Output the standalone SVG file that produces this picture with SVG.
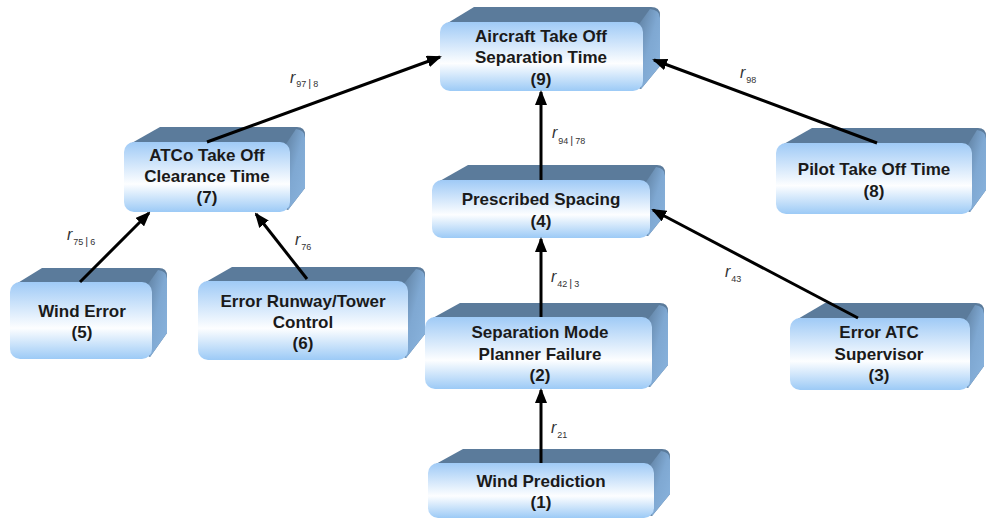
<svg xmlns="http://www.w3.org/2000/svg" width="986" height="521" viewBox="0 0 986 521">
<defs>
<linearGradient id="front" x1="0" y1="0" x2="0" y2="1">
<stop offset="0" stop-color="#9fcaf6"/>
<stop offset="0.6" stop-color="#fdfeff"/>
<stop offset="1" stop-color="#9ccaf6"/>
</linearGradient>
<linearGradient id="side" x1="0" y1="0" x2="1" y2="1">
<stop offset="0" stop-color="#5b7b9b"/>
<stop offset="0.5" stop-color="#7fa8d2"/>
<stop offset="1" stop-color="#8ab4de"/>
</linearGradient>
<marker id="ah" markerUnits="userSpaceOnUse" markerWidth="15" markerHeight="12" refX="13" refY="6" orient="auto">
<path d="M0,0 L15,6 L0,12 Z" fill="#000"/>
</marker>
</defs>
<style>
.top{fill:#5b7b9b}
.side{fill:url(#side)}
.face{fill:url(#front)}
.t{font-family:"Liberation Sans",Arial,sans-serif;font-weight:bold;font-size:17px;fill:#1a1a1a;text-anchor:middle}
.r{font-family:"Liberation Sans",Arial,sans-serif;font-style:italic;font-size:16px;fill:#333}
.s{font-size:9px;font-style:normal}
.b{font-size:11px;font-style:normal}
.c{stroke:#000;stroke-width:3;fill:none;marker-end:url(#ah)}
</style>

<g id="n9">
<path class="top" d="M446,24 L474,7 L651,7 Q660,7 660,15 L660,66 L641,89 Z"/>
<path class="side" d="M637,27 L650,9 Q660,10 660,18 L660,66 L641,89 Z"/>
<rect class="face" x="440" y="22" width="203" height="69" rx="10"/>
<text class="t" x="541" y="42">Aircraft Take Off</text>
<text class="t" x="541" y="63">Separation Time</text>
<text class="t" x="541" y="85">(9)</text>
</g>

<g id="n7">
<path class="top" d="M130,144 L160,127 L297,127 Q305,127 305,135 L305,188 L288,210 Z"/>
<path class="side" d="M284,147 L296,129 Q305,130 305,138 L305,188 L288,210 Z"/>
<rect class="face" x="124" y="142" width="166" height="70" rx="10"/>
<text class="t" x="207" y="161">ATCo Take Off</text>
<text class="t" x="207" y="182">Clearance Time</text>
<text class="t" x="207" y="203">(7)</text>
</g>

<g id="n4">
<path class="top" d="M438,182 L468,165 L657,165 Q665,165 665,173 L665,215 L648,236 Z"/>
<path class="side" d="M644,185 L656,167 Q665,168 665,176 L665,215 L648,236 Z"/>
<rect class="face" x="432" y="180" width="218" height="58" rx="10"/>
<text class="t" x="541" y="205">Prescribed Spacing</text>
<text class="t" x="541" y="227">(4)</text>
</g>

<g id="n8">
<path class="top" d="M782,145 L812,128 L978,128 Q986,128 986,136 L986,190 L970,212 Z"/>
<path class="side" d="M966,148 L977,130 Q986,131 986,139 L986,190 L970,212 Z"/>
<rect class="face" x="776" y="143" width="196" height="71" rx="10"/>
<text class="t" x="874" y="175">Pilot Take Off Time</text>
<text class="t" x="874" y="197">(8)</text>
</g>

<g id="n5">
<path class="top" d="M16,284 L42,268 L159,268 Q167,268 167,276 L167,333 L150,357 Z"/>
<path class="side" d="M146,287 L158,270 Q167,271 167,279 L167,333 L150,357 Z"/>
<rect class="face" x="10" y="282" width="142" height="77" rx="10"/>
<text class="t" x="82" y="317">Wind Error</text>
<text class="t" x="82" y="338">(5)</text>
</g>

<g id="n6">
<path class="top" d="M204,283 L232,267 L417,267 Q425,267 425,275 L425,334 L406,358 Z"/>
<path class="side" d="M402,286 L416,269 Q425,270 425,278 L425,334 L406,358 Z"/>
<rect class="face" x="198" y="281" width="210" height="79" rx="10"/>
<text class="t" x="303" y="307">Error Runway/Tower</text>
<text class="t" x="303" y="328">Control</text>
<text class="t" x="303" y="349">(6)</text>
</g>

<g id="n2">
<path class="top" d="M431,319 L460,303 L660,303 Q668,303 668,311 L668,365 L650,387 Z"/>
<path class="side" d="M646,322 L659,305 Q668,306 668,314 L668,365 L650,387 Z"/>
<rect class="face" x="425" y="317" width="227" height="72" rx="10"/>
<text class="t" x="540" y="338">Separation Mode</text>
<text class="t" x="540" y="360">Planner Failure</text>
<text class="t" x="540" y="381">(2)</text>
</g>

<g id="n3">
<path class="top" d="M796,320 L825,303 L976,303 Q984,303 984,311 L984,366 L968,388 Z"/>
<path class="side" d="M964,323 L975,305 Q984,306 984,314 L984,366 L968,388 Z"/>
<rect class="face" x="790" y="318" width="180" height="72" rx="10"/>
<text class="t" x="879" y="338">Error ATC</text>
<text class="t" x="879" y="360">Supervisor</text>
<text class="t" x="879" y="381">(3)</text>
</g>

<g id="n1">
<path class="top" d="M434,465 L463,449 L662,449 Q670,449 670,457 L670,494 L652,516 Z"/>
<path class="side" d="M648,468 L661,451 Q670,452 670,460 L670,494 L652,516 Z"/>
<rect class="face" x="428" y="463" width="226" height="55" rx="10"/>
<text class="t" x="541" y="487">Wind Prediction</text>
<text class="t" x="541" y="508">(1)</text>
</g>

<g id="connectors">
<line class="c" x1="207" y1="142" x2="440" y2="57"/>
<line class="c" x1="877" y1="143" x2="654" y2="60"/>
<line class="c" x1="541" y1="180" x2="541" y2="92"/>
<line class="c" x1="541" y1="317" x2="541" y2="239"/>
<line class="c" x1="858" y1="318" x2="653" y2="210"/>
<line class="c" x1="541" y1="463" x2="541" y2="390"/>
<line class="c" x1="80" y1="282" x2="149" y2="213"/>
<line class="c" x1="307" y1="279" x2="256" y2="214"/>
</g>

<g id="labels">
<text class="r" x="290" y="83">r<tspan class="s" dx="1" dy="4">97</tspan><tspan class="b" dx="2">|</tspan><tspan class="s" dx="2">8</tspan></text>
<text class="r" x="740" y="78">r<tspan class="s" dx="1" dy="5">98</tspan></text>
<text class="r" x="552" y="138">r<tspan class="s" dx="1" dy="6">94</tspan><tspan class="b" dx="2">|</tspan><tspan class="s" dx="2">78</tspan></text>
<text class="r" x="67" y="240">r<tspan class="s" dx="1" dy="5">75</tspan><tspan class="b" dx="2">|</tspan><tspan class="s" dx="2">6</tspan></text>
<text class="r" x="295" y="245">r<tspan class="s" dx="1" dy="5">76</tspan></text>
<text class="r" x="551" y="282">r<tspan class="s" dx="1" dy="5">42</tspan><tspan class="b" dx="2">|</tspan><tspan class="s" dx="2">3</tspan></text>
<text class="r" x="725" y="277">r<tspan class="s" dx="1" dy="5">43</tspan></text>
<text class="r" x="551" y="433">r<tspan class="s" dx="1" dy="5">21</tspan></text>
</g>
</svg>
